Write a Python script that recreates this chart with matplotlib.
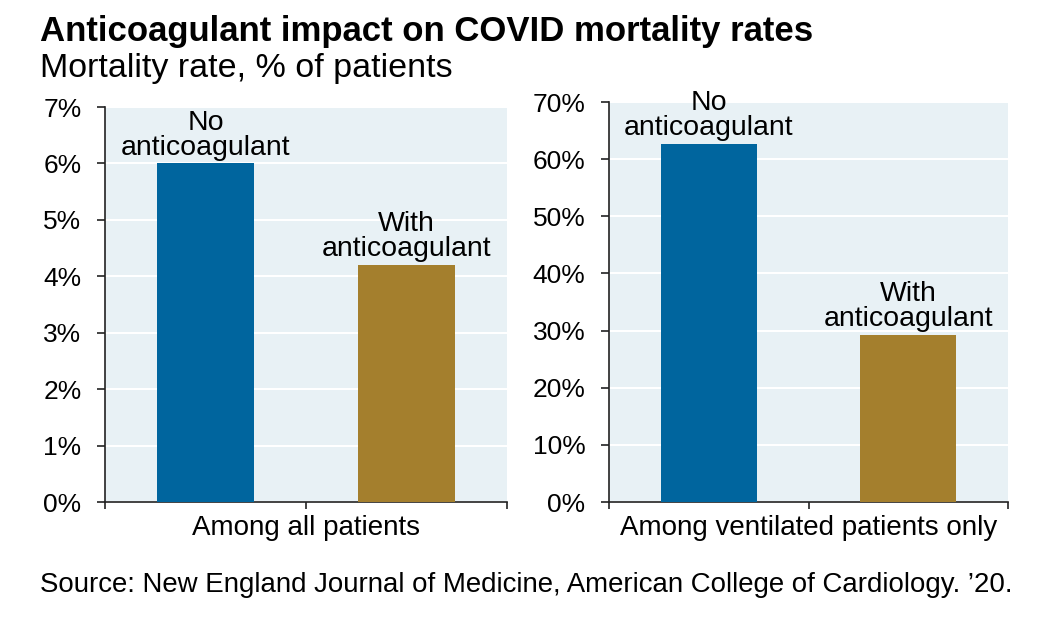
import matplotlib
matplotlib.use('Agg')
import matplotlib.pyplot as plt
from matplotlib.ticker import FuncFormatter

plt.rcParams['font.family'] = ['Liberation Sans', 'DejaVu Sans']

groups = ['Among all patients', 'Among ventilated patients only']
categories = ['No\nanticoagulant', 'With\nanticoagulant']
all_values = [6.0, 4.2]
vent_values = [62.7, 29.2]
y_limits = [7, 70]
y_steps = [1, 10]
colors = ['#00659e', '#a47f2d']

fig = plt.figure(figsize=(10.56, 6.24), dpi=100)
boxes = [[105 / 1056, 1 - 502 / 624, 402 / 1056, 395 / 624],
         [609 / 1056, 1 - 502 / 624, 399 / 1056, 400 / 624]]

for box, group, values, ymax, step in zip(boxes, groups, [all_values, vent_values], y_limits, y_steps):
    ax = fig.add_axes(box)
    ax.set_facecolor('#e8f1f5')
    x = list(range(len(values)))
    ax.bar(x, values, width=0.48, color=colors, zorder=3)
    for xi, v, label in zip(x, values, categories):
        ax.annotate(label, (xi, v), xytext=(0, 2), textcoords='offset points',
                    ha='center', va='bottom', fontsize=20.5, linespacing=0.95,
                    zorder=4, annotation_clip=False)
    ax.set_xlim(-0.5, len(values) - 0.5)
    ax.set_ylim(0, ymax)
    ax.set_yticks([i * step for i in range(int(ymax / step) + 1)])
    ax.yaxis.set_major_formatter(FuncFormatter(lambda v, p: f'{v:.0f}%'))
    ax.set_xticks([-0.5, 0.5, 1.5])
    ax.set_xticklabels([])
    ax.set_xlabel(group, fontsize=20, labelpad=1)
    ax.grid(axis='y', color='white', linewidth=1.5, zorder=1)
    ax.tick_params(axis='y', labelsize=19, length=6, width=1.2, color='#222222', pad=11)
    ax.tick_params(axis='x', length=5, width=1.2, color='#222222')
    for s in ['top', 'right']:
        ax.spines[s].set_visible(False)
    for s in ['left', 'bottom']:
        ax.spines[s].set_color('#222222')
        ax.spines[s].set_linewidth(1.2)

fig.text(40 / 1056, 1 - 32 / 624, 'Anticoagulant impact on COVID mortality rates',
         fontsize=25, fontweight='bold', va='center', ha='left')
fig.text(40 / 1056, 1 - 68 / 624, 'Mortality rate, % of patients',
         fontsize=24.5, va='center', ha='left')
fig.text(40 / 1056, 1 - 585 / 624,
         'Source: New England Journal of Medicine, American College of Cardiology. \u201920.',
         fontsize=19.9, va='center', ha='left')

fig.savefig('out.png', dpi=100)
